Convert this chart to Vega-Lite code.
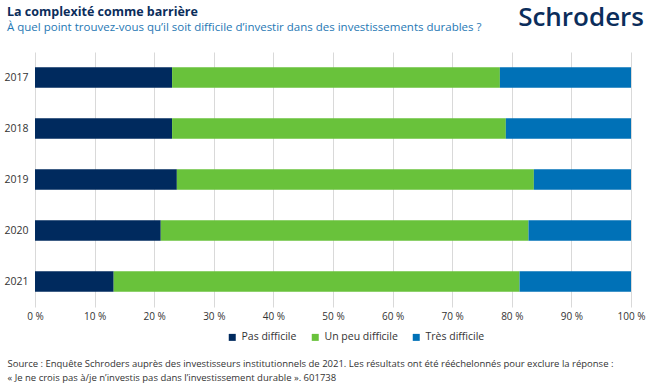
{
  "$schema": "https://vega.github.io/schema/vega-lite/v6.json",
  "width": 596,
  "height": 255,
  "autosize": {"type": "none"},
  "padding": {"left": 35, "top": 52, "right": 24, "bottom": 84},
  "background": "white",
  "config": {
    "font": "Open Sans",
    "view": {"stroke": null}
  },
  "title": {
    "text": "La complexité comme barrière",
    "subtitle": "À quel point trouvez-vous qu’il soit difficile d’investir dans des investissements durables ?",
    "anchor": "start",
    "frame": "group",
    "dx": -28,
    "dy": 46,
    "offset": 18,
    "font": "Open Sans",
    "fontSize": 12.5,
    "fontWeight": "bold",
    "color": "#0b2d5b",
    "subtitleFont": "Open Sans",
    "subtitleFontSize": 11.5,
    "subtitleColor": "#1f78b4",
    "subtitlePadding": 3.5
  },
  "datasets": {
    "bars": [
      {"annee": "2017", "reponse": "Pas difficile", "ord": 1, "pct": 23},
      {"annee": "2017", "reponse": "Un peu difficile", "ord": 2, "pct": 55},
      {"annee": "2017", "reponse": "Très difficile", "ord": 3, "pct": 22},
      {"annee": "2018", "reponse": "Pas difficile", "ord": 1, "pct": 23},
      {"annee": "2018", "reponse": "Un peu difficile", "ord": 2, "pct": 56},
      {"annee": "2018", "reponse": "Très difficile", "ord": 3, "pct": 21},
      {"annee": "2019", "reponse": "Pas difficile", "ord": 1, "pct": 23.8},
      {"annee": "2019", "reponse": "Un peu difficile", "ord": 2, "pct": 59.9},
      {"annee": "2019", "reponse": "Très difficile", "ord": 3, "pct": 16.3},
      {"annee": "2020", "reponse": "Pas difficile", "ord": 1, "pct": 21.1},
      {"annee": "2020", "reponse": "Un peu difficile", "ord": 2, "pct": 61.7},
      {"annee": "2020", "reponse": "Très difficile", "ord": 3, "pct": 17.2},
      {"annee": "2021", "reponse": "Pas difficile", "ord": 1, "pct": 13.2},
      {"annee": "2021", "reponse": "Un peu difficile", "ord": 2, "pct": 68.1},
      {"annee": "2021", "reponse": "Très difficile", "ord": 3, "pct": 18.7}
    ],
    "logo": [{"nom": "Schroders"}]
  },
  "layer": [
    {
      "data": {"name": "bars"},
      "mark": {"type": "bar"},
      "encoding": {
        "y": {
          "field": "annee",
          "type": "nominal",
          "sort": ["2017", "2018", "2019", "2020", "2021"],
          "scale": {"paddingInner": 0.6, "paddingOuter": 0.3},
          "axis": {
            "title": null,
            "domain": false,
            "ticks": false,
            "grid": false,
            "labelPadding": 7,
            "labelFontSize": 10.5,
            "labelColor": "#333333",
            "labelFont": "Open Sans"
          }
        },
        "x": {
          "field": "pct",
          "type": "quantitative",
          "stack": "zero",
          "scale": {"domain": [0, 100], "nice": false},
          "axis": {
            "values": [0, 10, 20, 30, 40, 50, 60, 70, 80, 90, 100],
            "labelExpr": "datum.value + ' %'",
            "labelFlush": false,
            "domain": false,
            "ticks": false,
            "grid": true,
            "gridColor": "#d9d9d9",
            "gridWidth": 1,
            "labelPadding": 4,
            "labelFontSize": 10,
            "labelColor": "#333333",
            "labelFont": "Open Sans",
            "title": [
              "Source : Enquête Schroders auprès des investisseurs institutionnels de 2021. Les résultats ont été rééchelonnés pour exclure la réponse :",
              "« Je ne crois pas à/je n’investis pas dans l’investissement durable ». 601738"
            ],
            "titleFont": "Open Sans",
            "titleFontSize": 9.5,
            "titleFontWeight": "normal",
            "titleColor": "#333333",
            "titleAnchor": "start",
            "titleAlign": "left",
            "titleBaseline": "top",
            "titleLineHeight": 14,
            "titleX": -28,
            "titleY": 51
          }
        },
        "color": {
          "field": "reponse",
          "type": "nominal",
          "scale": {
            "domain": ["Pas difficile", "Un peu difficile", "Très difficile"],
            "range": ["#002a5e", "#69c23b", "#0071b7"]
          },
          "legend": {
            "title": null,
            "orient": "none",
            "direction": "horizontal",
            "legendX": 192,
            "legendY": 280,
            "symbolType": "square",
            "symbolSize": 49,
            "labelFontSize": 10.5,
            "labelColor": "#333333",
            "labelFont": "Open Sans",
            "labelOffset": 4,
            "columnPadding": 13
          }
        },
        "order": {"field": "ord", "type": "quantitative"}
      }
    },
    {
      "data": {"name": "logo"},
      "mark": {
        "type": "text",
        "align": "right",
        "baseline": "middle",
        "font": "Open Sans",
        "fontSize": 26,
        "fontWeight": 600,
        "color": "#0b2d5b",
        "dx": 13,
        "dy": 1
      },
      "encoding": {
        "x": {"datum": 100},
        "y": {"value": -35},
        "text": {"field": "nom"}
      }
    }
  ]
}
